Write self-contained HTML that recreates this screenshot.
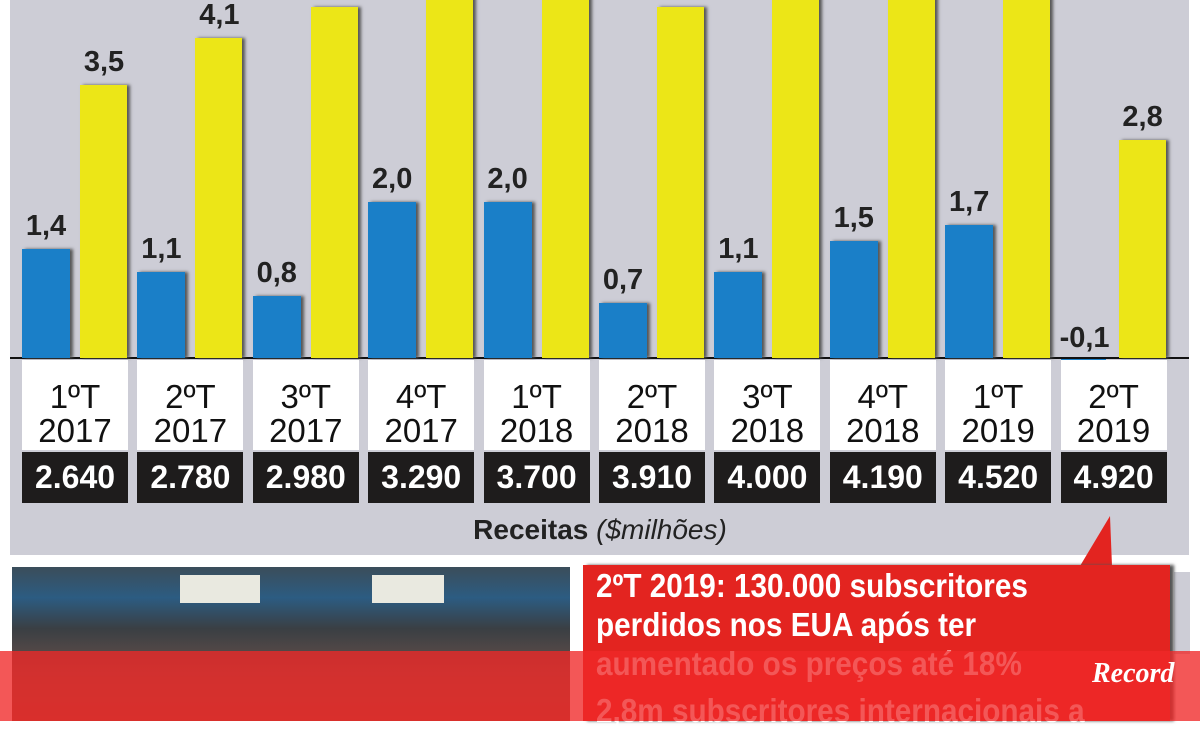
<!DOCTYPE html><html><head><meta charset="utf-8"><style>
body{margin:0;width:1200px;height:721px;overflow:hidden;background:#fff;position:relative;font-family:"Liberation Sans",sans-serif}
div{position:absolute;box-sizing:border-box}
.bar{box-shadow:3px 0 3px #555}
.v{font-weight:bold;font-size:29px;color:#222;text-align:center;width:60px}
.lab{background:#fff;top:360px;height:90px;width:106px;text-align:center;font-size:33px;line-height:34px;color:#111;padding-top:20px}
.num{background:#1e1c1c;top:452px;height:51px;width:106px;text-align:center;font-size:32px;font-weight:bold;color:#fff;line-height:51px}
</style></head><body>
<div style="left:10px;top:0;width:1179px;height:555px;background:#cdcdd6"></div>
<div style="left:10px;top:357px;width:1179px;height:2px;background:#111"></div>
<div id="c"></div>
<div style="left:0;top:512px;width:1200px;text-align:center;font-size:28px;color:#222;line-height:36px"><b>Receitas</b> <i>($milhões)</i></div>
<div style="left:12px;top:567px;width:558px;height:154px;background:linear-gradient(180deg,#3b4d5a 0,#2c5c82 20%,#3a3f44 40%,#6a5048 70%,#8a4a3a 100%)"></div>
<div style="left:180px;top:575px;width:80px;height:28px;background:#e9e9e0"></div>
<div style="left:372px;top:575px;width:72px;height:28px;background:#e9e9e0"></div>
<div style="left:1174px;top:572px;width:16px;height:82px;background:#cdcdd6"></div>
<svg style="position:absolute;left:0;top:0" width="1200" height="721"><polygon points="1080,566 1110,516 1112,566" fill="#e32420"/></svg>
<div style="left:583px;top:565px;width:587px;height:156px;background:#e32420;box-shadow:4px 0 3px #555"></div>
<div style="left:596px;top:566px;width:620px;font-size:33px;font-weight:bold;color:#fff;line-height:39px;white-space:nowrap;transform:scaleX(0.9);transform-origin:0 0">2ºT 2019: 130.000 subscritores<br>perdidos nos EUA após ter<br>aumentado os preços até 18%<br><span style="display:inline-block;margin-top:8px">2,8m subscritores internacionais a</span></div>
<div style="left:0;top:651px;width:1200px;height:70px;background:rgba(240,40,40,0.78)"></div>
<div style="left:1092px;top:658px;font-size:28px;font-weight:bold;font-style:italic;color:#fff;font-family:'Liberation Serif',serif">Record</div>
<script>
var b=[1.4,1.1,0.8,2.0,2.0,0.7,1.1,1.5,1.7,-0.1],y=[3.5,4.1,4.5,5,5,4.5,5,5,5,2.8],
q=["1","2","3","4","1","2","3","4","1","2"],yr=["2017","2017","2017","2017","2018","2018","2018","2018","2019","2019"],
n=["2.640","2.780","2.980","3.290","3.700","3.910","4.000","4.190","4.520","4.920"],h="";
for(var i=0;i<10;i++){var x=22+i*115.4;
var bh=Math.abs(b[i])*78;
if(b[i]>0){h+='<div class="bar" style="left:'+x+'px;top:'+(358-bh)+'px;width:48px;height:'+bh+'px;background:#1a7fc8"></div>';}
else{h+='<div style="left:'+x+'px;top:359px;width:45px;height:6px;background:#1a7fc8"></div>';}
h+='<div class="v" style="left:'+(x-6)+'px;top:'+(b[i]>0?358-bh-39:322)+'px">'+String(b[i].toFixed(1)).replace(".",",")+'</div>';
var yh=y[i]*78;
h+='<div class="bar" style="left:'+(x+58)+'px;top:'+(358-yh)+'px;width:47px;height:'+yh+'px;background:#ece617"></div>';
if(y[i]<4.5)h+='<div class="v" style="left:'+(x+52)+'px;top:'+(358-yh-39)+'px">'+String(y[i].toFixed(1)).replace(".",",")+'</div>';
h+='<div class="lab" style="left:'+x+'px">'+q[i]+'ºT<br>'+yr[i]+'</div>';
h+='<div class="num" style="left:'+x+'px">'+n[i]+'</div>';}
document.getElementById("c").outerHTML=h;
</script>
</body></html>
